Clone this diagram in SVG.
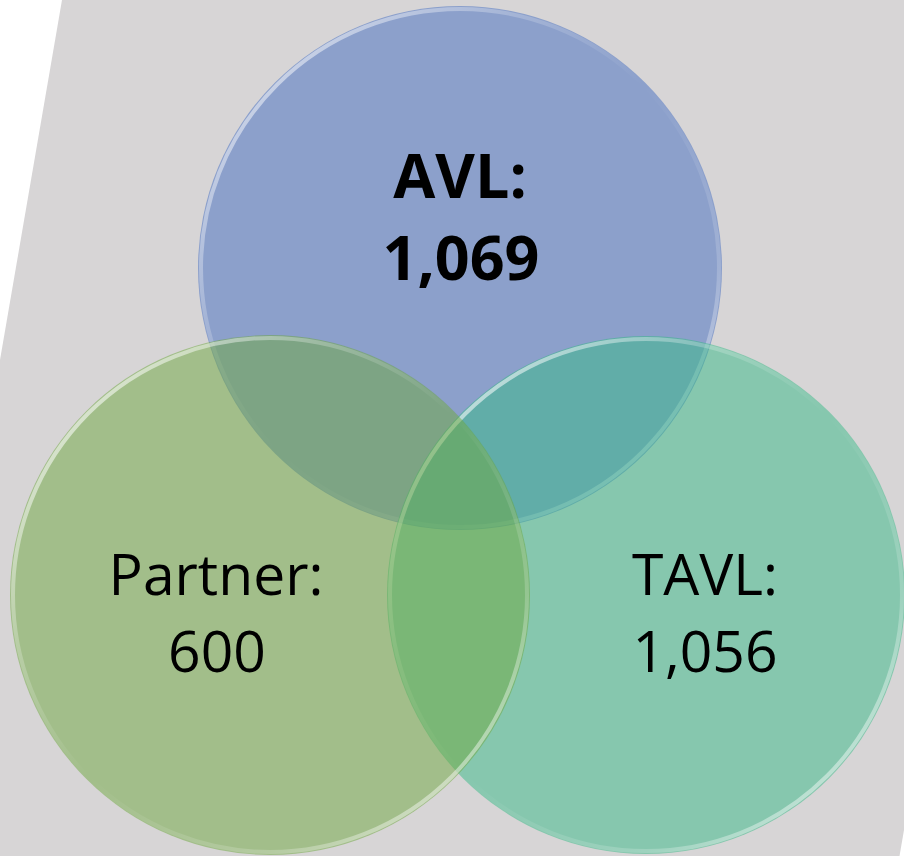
<svg xmlns="http://www.w3.org/2000/svg" width="904" height="856" viewBox="0 0 904 856">
  <defs>
    <linearGradient id="rim" x1="0" y1="0" x2="1" y2="1">
      <stop offset="0" stop-color="#ffffff" stop-opacity="0.85"/>
      <stop offset="0.3" stop-color="#ffffff" stop-opacity="0.25"/>
      <stop offset="0.5" stop-color="#ffffff" stop-opacity="0"/>
      <stop offset="0.75" stop-color="#ffffff" stop-opacity="0.2"/>
      <stop offset="1" stop-color="#ffffff" stop-opacity="0.8"/>
    </linearGradient>
    <style>
      .lbl { font-family: "Open Sans", "Noto Sans", "Liberation Sans", sans-serif; fill: #000; text-anchor: middle; }
      .reg { font-size: 57px; font-weight: 400; }
      .bold { font-size: 61px; font-weight: 700; }
      .rim { fill: none; stroke: url(#rim); stroke-width: 4; }
    </style>
  </defs>
  <rect x="0" y="0" width="904" height="856" fill="#ffffff"/>
  <polygon points="62,0 904,0 904,830 899.5,856 0,856 0,360" fill="#d7d5d6"/>

  <g id="avl">
    <circle cx="460" cy="268" r="262" fill="#8ca0cb"/>
    <circle cx="460" cy="268" r="259" class="rim" stroke-opacity="0.9"/>
  </g>
  <g id="tavl">
    <circle cx="646" cy="595" r="259" fill="#35b986" fill-opacity="0.5"/>
    <circle cx="646" cy="595" r="256" class="rim"/>
  </g>
  <g id="partner">
    <circle cx="270" cy="595" r="260" fill="#6da73e" fill-opacity="0.5"/>
    <circle cx="270" cy="595" r="257" class="rim"/>
  </g>

  <g id="labels">
    <text class="lbl bold" x="460" y="198">AVL:</text>
    <text class="lbl bold" x="461" y="280">1,069</text>
    <text class="lbl reg" x="216" y="595">Partner:</text>
    <text class="lbl reg" x="217" y="672">600</text>
    <text class="lbl reg" x="705" y="595">TAVL:</text>
    <text class="lbl reg" x="705" y="672">1,056</text>
  </g>
  <g id="connectors"/>
</svg>
